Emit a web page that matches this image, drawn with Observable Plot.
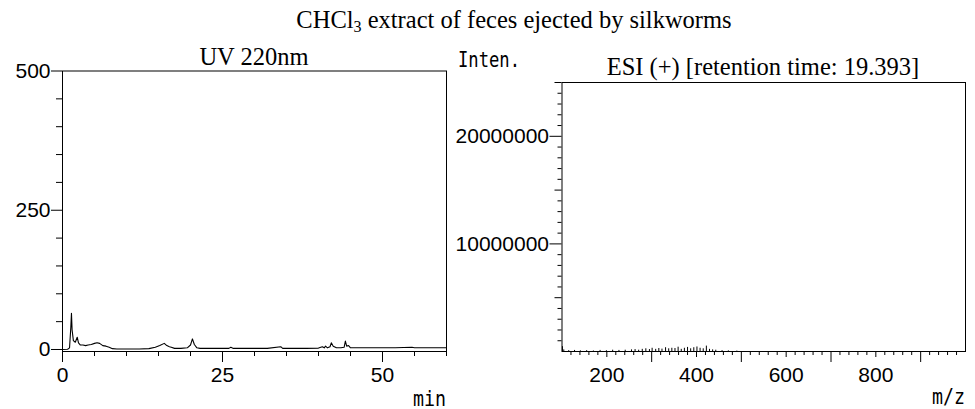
<!DOCTYPE html>
<html>
<head>
<meta charset="utf-8">
<script src="https://cdn.jsdelivr.net/npm/d3@7"></script>
<script src="https://cdn.jsdelivr.net/npm/@observablehq/plot@0.6"></script>
<style>
  html, body { margin: 0; padding: 0; background: #fff; }
  #wrap { position: relative; width: 975px; height: 409px; overflow: hidden; background: #fff; }
  #wrap > svg { position: absolute; top: 0; }
</style>
</head>
<body>
<div id="wrap"></div>
<script>
// ---- Data: UV 220nm chromatogram (time in min, absorbance) ----
const uvTime = [0, 0.8, 1.1, 1.3, 1.4, 1.5, 1.7, 2.0, 2.3, 2.5, 2.8, 3.2, 3.6, 4.0, 4.5, 5.0, 5.4, 5.8, 6.3, 6.8, 7.3, 7.8, 8.5, 10, 12, 13.5, 14.5, 15.2, 15.9, 16.3, 16.7, 17.0, 17.5, 18.5, 19.5, 20.0, 20.3, 20.6, 21.0, 21.5, 22.5, 24, 26, 26.3, 26.7, 28, 30, 32, 34.1, 34.4, 36, 38, 40, 40.6, 40.9, 41.1, 41.4, 41.8, 42.0, 42.3, 42.8, 43.5, 44.0, 44.2, 44.4, 44.7, 45.0, 46, 48, 50, 52, 54.6, 55, 57, 60];
const uvSignal = [0, 0.5, 3, 40, 65, 35, 16, 13, 22, 12, 8, 8, 7, 8, 9, 11, 12, 11, 7, 6, 4, 1.5, 1, 0.8, 0.8, 1.5, 4, 7, 11, 7, 5, 4, 2, 2, 3, 8, 19, 9, 3, 2, 2, 2, 2, 4, 2, 2, 2, 2, 5, 2, 2, 2, 2.5, 5, 3, 6, 3, 5, 12, 6, 3, 3, 4, 15, 6, 7, 3, 3, 3, 3, 3, 4, 3, 3, 3];

// ---- Data: ESI(+) mass spectrum at 19.393 min (m/z, intensity) ----
const msMz = [101, 104, 115, 128, 141, 155, 170, 185, 199, 213, 227, 241, 255, 263, 271, 279, 287, 295, 301, 309, 316, 323, 331, 338, 345, 352, 359, 366, 373, 380, 387, 394, 401, 408, 415, 422, 429, 436, 443, 457, 471, 490];
const msInt = [450000, 150000, 80000, 100000, 60000, 80000, 50000, 100000, 70000, 120000, 100000, 120000, 150000, 180000, 120000, 200000, 250000, 180000, 300000, 200000, 280000, 220000, 350000, 250000, 300000, 280000, 400000, 200000, 300000, 380000, 250000, 350000, 420000, 300000, 250000, 500000, 200000, 150000, 120000, 80000, 60000, 40000];

// ---- Axis ticks ----
const uvXMajor = [0, 25, 50];
const uvXMinor = [5, 10, 15, 20, 30, 35, 40, 45, 55, 60];
const uvYMajor = [0, 250, 500];
const uvYMinor = [50, 100, 150, 200, 300, 350, 400, 450];
const msXLabeled = [200, 400, 600, 800];
const msXLong = [300, 500, 700, 900];
const msXMinor = d3.range(120, 1000, 20).filter(v => v % 100 !== 0);
const msYMajor = [10000000, 20000000];
const msYMedium = [5000000, 15000000, 25000000];
const msYMinor = d3.range(1000000, 25000001, 1000000).filter(v => v % 5000000 !== 0);

// ---- Text ----
const mainTitle = ["CHCl", "3", " extract of feces ejected by silkworms"];
const uvTitle = "UV 220nm";
const msTitle = "ESI (+) [retention time: 19.393]";
const uvXLabel = "min";
const msXLabel = "m/z";
const msYLabel = "Inten.";

const tickFont = {fontFamily: "'Liberation Sans', Arial, sans-serif", fontSize: "21px", color: "black", background: "transparent", overflow: "visible"};
const blank = () => "";

const uvTable = uvTime.map((t, i) => ({t, v: uvSignal[i]}));
const msTable = msMz.map((m, i) => ({m, v: msInt[i]}));

const left = Plot.plot({
  width: 475, height: 409,
  marginLeft: 62, marginRight: 29, marginTop: 70.5, marginBottom: 58,
  style: tickFont,
  x: {domain: [0, 60]},
  y: {domain: [-3.6, 500]},
  marks: [
    Plot.frame({stroke: "black"}),
    Plot.axisX({ticks: uvXMinor, tickSize: 5, tickFormat: blank, label: null}),
    Plot.axisX({ticks: uvXMajor, tickSize: 11, tickPadding: 5, tickFormat: d => String(d), label: null}),
    Plot.axisY({ticks: uvYMinor, tickSize: 6, tickFormat: blank, label: null}),
    Plot.axisY({ticks: uvYMajor, tickSize: 11, tickPadding: 1, tickFormat: d => String(d), label: null}),
    Plot.line(uvTable, {x: "t", y: "v", stroke: "black", strokeWidth: 1.1})
  ]
});
left.style.left = "0px";

const right = Plot.plot({
  width: 500, height: 409,
  marginLeft: 86.5, marginRight: 10, marginTop: 82, marginBottom: 58,
  style: tickFont,
  x: {domain: [100, 1000]},
  y: {domain: [0, 25000000]},
  marks: [
    Plot.frame({stroke: "black"}),
    Plot.axisX({ticks: msXMinor, tickSize: 4, tickFormat: blank, label: null}),
    Plot.axisX({ticks: msXLong, tickSize: 11, tickFormat: blank, label: null}),
    Plot.axisX({ticks: msXLabeled, tickSize: 6, tickPadding: 10, tickFormat: d => String(d), label: null}),
    Plot.axisY({ticks: msYMinor, tickSize: 4, tickFormat: blank, label: null}),
    Plot.axisY({ticks: msYMedium, tickSize: 7, tickFormat: blank, label: null}),
    Plot.axisY({ticks: msYMajor, tickSize: 12, tickPadding: 1, tickFormat: d3.format("d"), label: null}),
    Plot.ruleX(msTable, {x: "m", y1: 0, y2: "v", stroke: "black", strokeWidth: 1})
  ]
});
right.style.left = "475px";

const wrap = document.getElementById("wrap");
wrap.appendChild(left);
wrap.appendChild(right);

// overlay for titles and axis names
const ns = "http://www.w3.org/2000/svg";
const ov = document.createElementNS(ns, "svg");
ov.setAttribute("width", 975); ov.setAttribute("height", 409);
ov.style.left = "0px";
function txt(x, y, s, anchor, family, size, len) {
  const t = document.createElementNS(ns, "text");
  t.setAttribute("x", x); t.setAttribute("y", y);
  t.setAttribute("text-anchor", anchor);
  t.setAttribute("font-family", family);
  t.setAttribute("font-size", size);
  t.setAttribute("fill", "black");
  if (len) { t.setAttribute("textLength", len); t.setAttribute("lengthAdjust", "spacingAndGlyphs"); }
  if (s != null) t.textContent = s;
  ov.appendChild(t);
  return t;
}
const serif = "'Liberation Serif', 'Times New Roman', serif";
const gothic = "'DejaVu Sans Mono', monospace";
const tt = txt(514, 28, null, "middle", serif, 24.5);
const a = document.createElementNS(ns, "tspan"); a.textContent = mainTitle[0]; tt.appendChild(a);
const b = document.createElementNS(ns, "tspan"); b.textContent = mainTitle[1]; b.setAttribute("font-size", 16); b.setAttribute("dy", 4); tt.appendChild(b);
const c = document.createElementNS(ns, "tspan"); c.textContent = mainTitle[2]; c.setAttribute("dy", -4); tt.appendChild(c);
txt(254, 65, uvTitle, "middle", serif, 24.5);
txt(763, 75, msTitle, "middle", serif, 24.5);
txt(458, 66.5, msYLabel, "start", gothic, 20.5, 62);
txt(446, 405.5, uvXLabel, "end", gothic, 20.5, 33);
txt(965, 404, msXLabel, "end", gothic, 20.5, 33);
wrap.appendChild(ov);
</script>
</body>
</html>
